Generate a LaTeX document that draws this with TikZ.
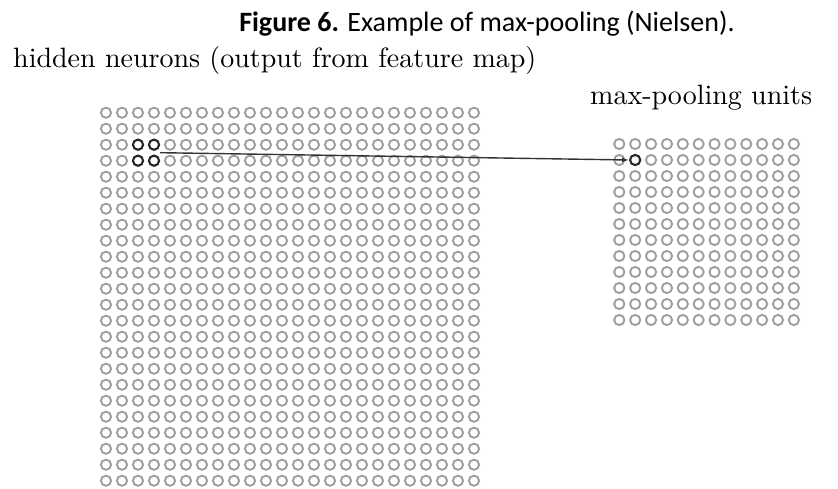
\documentclass[tikz,border=0pt]{standalone}
\usepackage{fontspec}
\newfontfamily\capfont{Carlito}
\newfontfamily\cmten{lmroman10-regular}[Extension=.otf]
\usetikzlibrary{arrows.meta,calc}
\begin{document}
\begin{tikzpicture}[x=1pt,y=-1pt,
  unit/.style={circle,draw=black!38,line width=1.9pt,minimum size=10.2pt,inner sep=0pt},
  active/.style={unit,draw=black!85,line width=2.1pt},
  lbl/.style={inner sep=0pt,font=\cmten\fontsize{28}{30}\selectfont},
  conn/.style={draw=black!80,line width=1.4pt,-{Latex[length=7pt,width=5pt]}}]
\useasboundingbox[fill=white] (0,0) rectangle (838,489);

% caption
\node[anchor=base,inner sep=0pt,font=\capfont\fontsize{28}{30}\selectfont] (title) at (487,32)
  {\textbf{Figure 6.} Example of max-pooling (Nielsen).};

% layer labels
\node[lbl,anchor=base west] (hlabel) at (13,68) {hidden neurons (output from feature map)};
\node[lbl,anchor=base west] (plabel) at (590,105) {max-pooling units};

% 24x24 hidden neurons; the 2x2 block feeding the first pooling unit is dark
\foreach \r in {0,...,23}{
  \foreach \c in {0,...,23}{
    \pgfmathtruncatemacro\hot{and(and(\r>1,\r<4),and(\c>1,\c<4))}
    \ifnum\hot=1 \def\sty{active}\else\def\sty{unit}\fi
    \node[style=\sty] (h-\r-\c) at ({106+16*\c},{112.7+16*\r}) {};
  }
}

% 12x12 max-pooling units
\foreach \r in {0,...,11}{
  \foreach \c in {0,...,11}{
    \pgfmathtruncatemacro\hot{and(\r==1,\c==1)}
    \ifnum\hot=1 \def\sty{active}\else\def\sty{unit}\fi
    \node[style=\sty] (p-\r-\c) at ({619.3+15.87*\c},{144+16*\r}) {};
  }
}

% connection from the 2x2 block to its pooling unit
\draw[conn] ($(h-2-3.east)!0.5!(h-3-3.east)$) -- (p-1-1.west);
\end{tikzpicture}
\end{document}
